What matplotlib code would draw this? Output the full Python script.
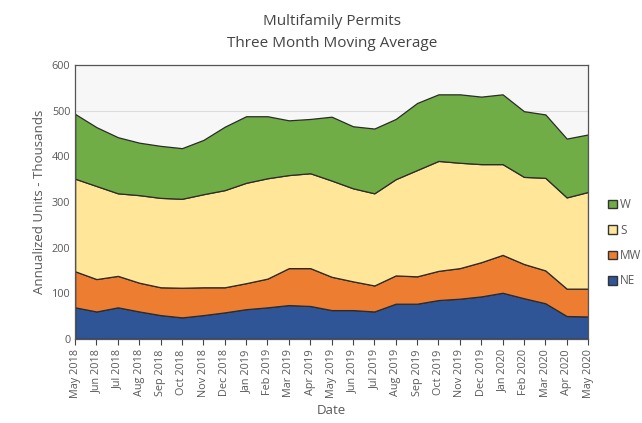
import matplotlib.pyplot as plt
from matplotlib.patches import Patch

months = ["May 2018", "Jun 2018", "Jul 2018", "Aug 2018", "Sep 2018", "Oct 2018",
          "Nov 2018", "Dec 2018", "Jan 2019", "Feb 2019", "Mar 2019", "Apr 2019",
          "May 2019", "Jun 2019", "Jul 2019", "Aug 2019", "Sep 2019", "Oct 2019",
          "Nov 2019", "Dec 2019", "Jan 2020", "Feb 2020", "Mar 2020", "Apr 2020",
          "May 2020"]

ne = [69, 60, 69, 60, 52, 47, 52, 58, 65, 69, 74, 72, 63, 63, 60, 77, 77, 85, 88, 93, 101, 89, 78, 50, 49]
mw = [79, 71, 69, 63, 61, 65, 61, 55, 57, 63, 81, 83, 73, 63, 57, 62, 60, 64, 67, 75, 83, 75, 72, 60, 61]
s = [203, 204, 181, 192, 196, 195, 204, 213, 220, 220, 204, 208, 211, 204, 202, 211, 233, 241, 231, 215, 199, 191, 203, 200, 212]
w = [142, 129, 123, 115, 114, 111, 119, 139, 146, 136, 120, 119, 140, 136, 142, 132, 147, 146, 150, 148, 153, 144, 139, 129, 126]

series = ["NE", "MW", "S", "W"]
colors = ["#2f5597", "#ed7d31", "#ffe699", "#70ad47"]

plt.rcParams["font.family"] = ["Open Sans", "DejaVu Sans"]

fig = plt.figure(figsize=(6.42, 4.23), dpi=100)
ax = fig.add_axes([0.117, 0.199, 0.799, 0.647])
ax.set_facecolor("#f7f7f7")

x = list(range(len(months)))
ax.stackplot(x, ne, mw, s, w, colors=colors, edgecolor="#2b2b2b", linewidth=0.9, zorder=2)
ax.axhline(500, color="#dcdcdc", linewidth=0.8, zorder=1)

ax.set_xlim(0, len(months) - 1)
ax.set_ylim(0, 600)
ax.set_xticks(x)
ax.set_xticklabels(months, rotation=90, fontsize=7.8, color="#595959")
ax.set_yticks(range(0, 601, 100))
ax.tick_params(axis="y", length=0, labelsize=7.8, labelcolor="#595959")
ax.tick_params(axis="x", length=4, color="#444444")
for sp in ax.spines.values():
    sp.set_color("#555555")
    sp.set_linewidth(0.9)

ax.set_xlabel("Date", fontsize=9.5, color="#595959")
ax.set_ylabel("Annualized Units - Thousands", fontsize=9.5, color="#595959")
fig.text(0.517, 0.923, "Multifamily Permits\nThree Month Moving Average",
         ha="center", va="center", fontsize=11, color="#444444", linespacing=1.6)

handles = [Patch(facecolor=c, edgecolor="#333333", label=l) for c, l in zip(colors, series)]
fig.legend(handles[::-1], series[::-1], loc="center left", bbox_to_anchor=(0.93, 0.426),
           frameon=False, fontsize=8.5, handlelength=0.75, handleheight=0.75,
           handletextpad=0.3, labelspacing=1.05, labelcolor="#595959")

fig.savefig("out.png", dpi=100)
plt.close(fig)
